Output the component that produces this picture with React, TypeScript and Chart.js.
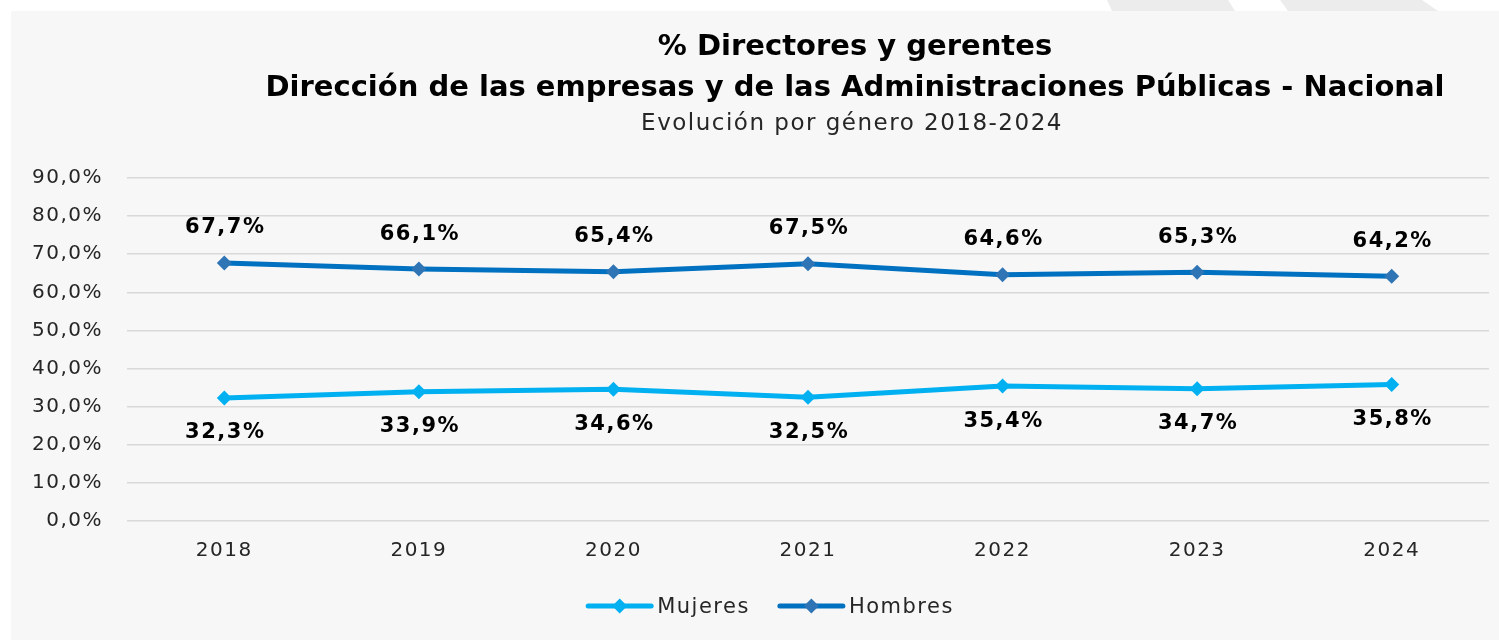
import { useEffect, useRef } from "react";
import { Chart, registerables } from "chart.js";

Chart.register(...registerables);

// ---------- data ----------
const years = ["2018", "2019", "2020", "2021", "2022", "2023", "2024"];
const mujeres = [32.3, 33.9, 34.6, 32.5, 35.4, 34.7, 35.8];
const hombres = [67.7, 66.1, 65.4, 67.5, 64.6, 65.3, 64.2];
const seriesNames = ["Mujeres", "Hombres"];
const lineColors = ["#00b0f0", "#0070c0"];
const markerColors = ["#00b0f0", "#2f75b5"];
const yMin = 0;
const yMax = 90;
const yStep = 10;
const titleLines = [
  "% Directores y gerentes",
  "Dirección de las empresas y de las Administraciones Públicas - Nacional",
];
const subtitle = "Evolución por género 2018-2024";

const FONT = "'DejaVu Sans', Verdana, sans-serif";
const fmt = (v: number) => v.toFixed(1).replace(".", ",") + "%";

function diamond(ctx: CanvasRenderingContext2D, x: number, y: number, r: number) {
  ctx.beginPath();
  ctx.moveTo(x - r, y);
  ctx.lineTo(x, y - r);
  ctx.lineTo(x + r, y);
  ctx.lineTo(x, y + r);
  ctx.closePath();
  ctx.fill();
}

const decoPlugin = {
  id: "deco",
  beforeUpdate(chart: any) {
    chart.ctx.letterSpacing = "1.5px";
  },
  beforeDraw(chart: any) {
    chart.ctx.letterSpacing = "1.5px";
  },
  afterDatasetsDraw(chart: any) {
    const ctx: CanvasRenderingContext2D = chart.ctx;
    ctx.save();
    // data labels
    ctx.font = `bold 21px ${FONT}`;
    (ctx as any).letterSpacing = "1.5px";
    ctx.fillStyle = "#000000";
    ctx.textAlign = "center";
    ctx.textBaseline = "middle";
    chart.data.datasets.forEach((ds: any, i: number) => {
      const meta = chart.getDatasetMeta(i);
      meta.data.forEach((pt: any, j: number) => {
        const dy = i === 1 ? -35 : 35;
        ctx.fillText(fmt(ds.data[j]), pt.x + 1, pt.y + dy);
      });
    });
    ctx.restore();
  },
  afterDraw(chart: any) {
    const ctx: CanvasRenderingContext2D = chart.ctx;
    ctx.save();
    // titles
    (ctx as any).letterSpacing = "0px";
    ctx.fillStyle = "#000000";
    ctx.textAlign = "center";
    ctx.textBaseline = "alphabetic";
    ctx.font = `bold 29px ${FONT}`;
    ctx.fillText(titleLines[0], 844, 44);
    ctx.fillText(titleLines[1], 844, 85);
    (ctx as any).letterSpacing = "1.5px";
    ctx.font = `23px ${FONT}`;
    ctx.fillStyle = "#262626";
    ctx.fillText(subtitle, 841, 119);

    // legend
    ctx.font = `21px ${FONT}`;
    ctx.textAlign = "left";
    ctx.textBaseline = "alphabetic";
    const lineLen = 67;
    const gapText = 4;
    const gapItems = 28;
    const widths = seriesNames.map((n) => ctx.measureText(n).width);
    const total =
      widths.reduce((a, w) => a + lineLen + gapText + w, 0) + gapItems * (seriesNames.length - 1);
    let x = 759 - total / 2;
    const ly = 595;
    seriesNames.forEach((name, i) => {
      ctx.strokeStyle = lineColors[i];
      ctx.lineWidth = 5;
      ctx.lineCap = "round";
      ctx.beginPath();
      ctx.moveTo(x + 2, ly);
      ctx.lineTo(x + lineLen - 2, ly);
      ctx.stroke();
      ctx.fillStyle = markerColors[i];
      diamond(ctx, x + lineLen / 2, ly, 7.5);
      ctx.fillStyle = "#262626";
      ctx.fillText(name, x + lineLen + gapText, 602);
      x += lineLen + gapText + widths[i] + gapItems;
    });
    ctx.restore();
  },
};

export default function App() {
  const ref = useRef<HTMLCanvasElement | null>(null);

  useEffect(() => {
    document.body.style.background = "#ffffff";
    const canvas = ref.current!;
    const chart = new Chart(canvas, {
      type: "line",
      data: {
        labels: years,
        datasets: [
          {
            label: seriesNames[0],
            data: mujeres,
            borderColor: lineColors[0],
            backgroundColor: markerColors[0],
            pointBackgroundColor: markerColors[0],
            pointBorderColor: markerColors[0],
            borderWidth: 5,
            pointStyle: "rectRot",
            pointRadius: 7.5,
            pointBorderWidth: 0,
            tension: 0,
            borderCapStyle: "round",
          },
          {
            label: seriesNames[1],
            data: hombres,
            borderColor: lineColors[1],
            backgroundColor: markerColors[1],
            pointBackgroundColor: markerColors[1],
            pointBorderColor: markerColors[1],
            borderWidth: 5,
            pointStyle: "rectRot",
            pointRadius: 7.5,
            pointBorderWidth: 0,
            tension: 0,
            borderCapStyle: "round",
          },
        ],
      },
      options: {
        responsive: false,
        animation: false,
        devicePixelRatio: 1,
        layout: { padding: { top: 167, right: 10, left: 0, bottom: 0 } },
        plugins: {
          legend: { display: false },
          title: { display: false },
          tooltip: { enabled: false },
        },
        scales: {
          x: {
            offset: true,
            grid: { display: false, drawTicks: false, offset: true },
            border: { display: false },
            ticks: {
              color: "#262626",
              font: { family: FONT, size: 20 },
              padding: 18,
            },
            afterFit(scale: any) {
              scale.height = 119;
            },
          },
          y: {
            min: yMin,
            max: yMax,
            grid: { color: "#d9d9d9", lineWidth: 1.6, drawTicks: false },
            border: { display: false },
            ticks: {
              stepSize: yStep,
              color: "#262626",
              font: { family: FONT, size: 20 },
              padding: 24,
              callback: (v: any) => fmt(Number(v)),
            },
            afterFit(scale: any) {
              scale.width = 116;
            },
          },
        },
      },
      plugins: [decoPlugin as any],
    });
    return () => chart.destroy();
  }, []);

  return (
    <>
      <div
        style={{
          position: "absolute",
          left: 0,
          top: 0,
          width: 1499,
          height: 11,
          background: "#ececec",
          clipPath:
            "polygon(1107px 0, 1228px 0, 1235px 11px, 1112px 11px, 1107px 0, 1280px 0, 1422px 0, 1438px 11px, 1288px 11px, 1280px 0)",
        }}
      />
      <div
        style={{
          position: "absolute",
          left: 11,
          top: 11,
          width: 1488,
          height: 629,
          background: "#f7f7f7",
        }}
      >
        <canvas ref={ref} width={1488} height={629} style={{ display: "block" }} />
      </div>
    </>
  );
}
